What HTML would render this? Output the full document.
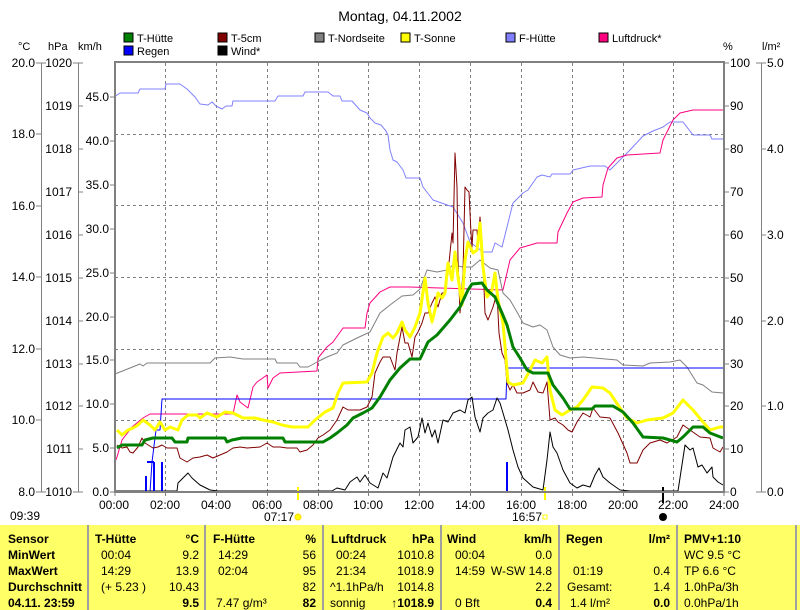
<!DOCTYPE html>
<html><head><meta charset="utf-8"><style>
body{margin:0;background:#fff;}
svg{display:block;font-family:"Liberation Sans",sans-serif;}
</style></head><body>
<svg width="800" height="610" viewBox="0 0 800 610" xmlns="http://www.w3.org/2000/svg">
<rect width="800" height="610" fill="#fff"/>
<text x="400" y="21" font-size="14" text-anchor="middle">Montag, 04.11.2002</text>
<g font-size="11">
<rect x="124" y="33" width="9" height="9" fill="#008000" stroke="#000"/><text x="137" y="42">T-Hütte</text>
<rect x="124" y="46" width="9" height="9" fill="#0000ff" stroke="#000"/><text x="137" y="55">Regen</text>
<rect x="218" y="33" width="9" height="9" fill="#800000" stroke="#000"/><text x="231" y="42">T-5cm</text>
<rect x="218" y="46" width="9" height="9" fill="#000" stroke="#000"/><text x="231" y="55">Wind*</text>
<rect x="315" y="33" width="9" height="9" fill="#808080" stroke="#000"/><text x="328" y="42">T-Nordseite</text>
<rect x="401" y="33" width="9" height="9" fill="#ffff00" stroke="#000"/><text x="414" y="42">T-Sonne</text>
<rect x="506" y="33" width="9" height="9" fill="#8080ff" stroke="#000"/><text x="519" y="42">F-Hütte</text>
<rect x="599" y="33" width="9" height="9" fill="#ff0080" stroke="#000"/><text x="612" y="42">Luftdruck*</text>
<text x="18" y="50">°C</text><text x="48" y="50">hPa</text><text x="78" y="50">km/h</text>
<text x="723" y="50">%</text><text x="762" y="50">l/m²</text>
</g>
<g stroke="#808080" stroke-dasharray="3,3" stroke-width="1">
<path d="M165.5 63V492M216.5 63V492M267.5 63V492M318.5 63V492M368.5 63V492M419.5 63V492M470.5 63V492M521.5 63V492M572.5 63V492M623.5 63V492M673.5 63V492"/>
<path d="M115 134.5H724M115 205.5H724M115 277.5H724M115 349.5H724M115 420.5H724"/>
</g>
<g stroke="#808080" fill="none">
<path d="M41.5 63V492M78.5 63V492M761.5 63V492"/>
<path d="M36 63H46M36 134H41M36 206H41M36 277H41M36 349H41M36 420H41M36 492H46"/>
<path d="M73 63H83M78 106H83M78 149H83M78 192H83M78 235H83M78 278H83M78 321H83M78 364H83M78 406H83M78 449H83M73 492H83"/>
<path d="M110 97H115M110 141H115M110 185H115M110 229H115M110 273H115M110 317H115M110 360H115M110 404H115M110 448H115M110 492H115"/>
<path d="M724 63H729M724 106H729M724 149H729M724 192H729M724 235H729M724 278H729M724 321H729M724 364H729M724 406H729M724 449H729M724 492H729"/>
<path d="M756 63H766M761 149H766M761 235H766M761 321H766M761 406H766M756 492H766"/>
<path d="M165.5 492v4M216.5 492v4M267.5 492v4M318.5 492v4M368.5 492v4M419.5 492v4M470.5 492v4M521.5 492v4M572.5 492v4M623.5 492v4M673.5 492v4M724 492v4M115 492v4"/>
</g>
<g font-size="12" text-anchor="end">
<text x="35" y="67">20.0</text><text x="35" y="138">18.0</text><text x="35" y="210">16.0</text><text x="35" y="281">14.0</text><text x="35" y="353">12.0</text><text x="35" y="424">10.0</text><text x="35" y="496">8.0</text>
<text x="72" y="67">1020</text><text x="72" y="110">1019</text><text x="72" y="153">1018</text><text x="72" y="196">1017</text><text x="72" y="239">1016</text><text x="72" y="282">1015</text><text x="72" y="325">1014</text><text x="72" y="368">1013</text><text x="72" y="410">1012</text><text x="72" y="453">1011</text><text x="72" y="496">1010</text>
<text x="109" y="101">45.0</text><text x="109" y="145">40.0</text><text x="109" y="189">35.0</text><text x="109" y="233">30.0</text><text x="109" y="277">25.0</text><text x="109" y="321">20.0</text><text x="109" y="364">15.0</text><text x="109" y="408">10.0</text><text x="109" y="452">5.0</text><text x="109" y="496">0.0</text>
</g>
<g font-size="12">
<text x="730" y="67">100</text><text x="730" y="110">90</text><text x="730" y="153">80</text><text x="730" y="196">70</text><text x="730" y="239">60</text><text x="730" y="282">50</text><text x="730" y="325">40</text><text x="730" y="368">30</text><text x="730" y="410">20</text><text x="730" y="453">10</text><text x="730" y="496">0</text>
<text x="767" y="67">5.0</text><text x="767" y="153">4.0</text><text x="767" y="239">3.0</text><text x="767" y="325">2.0</text><text x="767" y="410">1.0</text><text x="767" y="496">0.0</text>
</g>
<g font-size="12" text-anchor="middle">
<text x="114" y="509">00:00</text><text x="165" y="509">02:00</text><text x="216" y="509">04:00</text><text x="267" y="509">06:00</text><text x="318" y="509">08:00</text><text x="368" y="509">10:00</text><text x="419" y="509">12:00</text><text x="470" y="509">14:00</text><text x="521" y="509">16:00</text><text x="572" y="509">18:00</text><text x="623" y="509">20:00</text><text x="673" y="509">22:00</text><text x="724" y="509">24:00</text>
</g>
<text x="10" y="520" font-size="12">09:39</text>
<text x="264" y="521" font-size="12">07:17</text>
<circle cx="298" cy="517" r="3" fill="#ffff00" stroke="#ffd700"/>
<text x="512" y="521" font-size="12">16:57</text>
<rect x="543" y="515" width="4" height="4" fill="none" stroke="#ffff00"/>
<circle cx="663" cy="517" r="4" fill="#000"/>
<g fill="none" stroke-linejoin="round">
<polyline stroke="#8080ff" points="114,97 120,93 138,93 140,89 165,89 166,84 180,84 187,89 195,97 200,104 208,105 212,102 216,106 222,109 226,106 232,106 233,101 275,101 278,96 303,96 305,92 328,92 333,96 340,96 342,101 352,101 360,110 367,113 370,118 375,123 381,125 386,131 388,135 390,150 393,160 397,162 403,170 406,178 410,178 420,178 423,187 433,200 453,207 463,223 470,242 483,252 492,252 495,243 502,247 507,227 513,203 523,193 528,190 537,177 542,175 550,177 552,174 570,174 573,170 590,166 605,166 610,170 623,157 630,150 643,136 653,131 663,127 670,122 683,122 693,135 710,135 712,139 723,139"/>
<polyline stroke="#ff0080" points="115,462 117,457 122,440 132,427 143,418 150,414 233,414 237,395 240,402 248,408 253,387 257,382 267,375 268,388 273,378 280,373 317,371 318,358 327,347 333,342 343,328 365,328 367,313 370,303 380,292 390,287 410,287 440,288 503,290 510,260 520,248 537,243 557,243 558,232 567,213 573,202 583,198 602,197 603,185 608,168 617,158 627,155 660,153 663,140 673,120 680,113 693,110 723,110"/>
<polyline stroke="#808080" points="115,374 120,372 130,368 140,364 143,366 147,363 210,363 215,358 230,357 243,359 275,359 277,363 297,363 300,367 308,367 317,362 327,357 337,353 343,345 357,338 370,332 380,313 390,305 402,296 413,295 420,289 427,270 437,272 447,270 453,265 463,267 472,267 480,260 490,268 498,270 503,293 510,300 517,312 523,323 533,327 540,325 547,330 553,347 560,355 570,358 583,357 617,360 623,365 643,366 650,363 670,362 680,360 687,367 697,383 703,385 712,392 723,393"/>
<polyline stroke="#0000ff" points="115,492 150,492 152,462 156,430 160,430 162,399 506,399 507,368 724,368"/>
<polyline stroke="#000" points="115,491 177,491 178,483 188,473 192,478 200,485 210,490 218,491 332,491 337,488 345,490 350,482 357,477 360,482 365,475 370,483 378,488 383,473 387,478 393,457 400,443 403,447 405,430 410,427 413,443 418,437 422,418 425,433 428,423 432,437 435,430 438,443 443,420 448,422 453,413 460,410 465,413 468,400 472,397 475,417 480,432 483,418 488,413 493,410 497,398 500,403 503,413 508,430 513,450 518,467 523,478 533,487 543,490 547,460 550,432 553,447 557,453 563,470 570,483 577,488 583,485 590,487 595,475 599,468 603,477 610,483 620,490 630,491 678,491 685,445 690,450 693,448 698,467 702,465 707,473 712,467 713,477 718,482 723,485"/>
<polyline stroke="#800000" points="117,445 122,448 127,447 130,452 133,453 138,447 142,438 145,443 153,448 158,447 162,445 167,448 177,448 180,458 187,462 193,458 200,457 207,455 213,458 220,455 227,452 233,448 240,447 247,448 260,447 267,443 273,447 280,447 287,448 297,448 300,452 307,450 313,445 318,438 323,435 330,430 337,420 343,407 348,410 360,410 367,407 372,397 375,373 380,362 383,357 390,357 395,370 397,353 402,327 405,343 408,343 412,357 415,337 418,332 422,323 425,313 428,313 432,303 435,297 438,307 442,293 445,293 448,273 452,233 453,243 455,153 457,187 458,260 460,313 463,273 465,187 467,190 469,192 471,233 472,247 473,230 477,230 478,243 480,217 482,243 483,263 485,313 488,320 493,307 497,293 499,333 502,353 505,360 507,383 510,390 513,385 517,393 523,393 530,390 533,382 538,392 543,393 547,382 550,420 555,418 558,422 563,425 568,430 572,432 577,422 583,413 590,417 593,408 600,417 610,418 618,433 627,453 630,463 637,463 643,450 650,443 660,440 667,443 677,437 683,425 690,430 700,437 710,438 713,448 720,452 723,447"/>
<polyline stroke="#ffff00" stroke-width="3" points="117,430 122,435 128,430 133,428 138,425 143,420 150,425 155,430 160,422 165,430 170,427 178,430 182,420 188,415 197,415 200,418 207,413 217,417 225,412 233,413 243,418 255,418 263,420 273,422 282,425 292,427 308,427 315,420 325,412 333,408 338,393 343,383 367,382 372,373 377,353 383,337 388,333 393,338 397,333 402,322 405,330 410,337 415,327 420,313 425,278 428,303 432,322 435,310 438,293 442,298 445,293 448,263 452,280 455,252 458,277 462,305 465,260 468,242 473,253 477,250 480,223 483,267 487,297 492,290 495,273 498,300 503,323 508,382 513,385 523,383 530,370 535,360 542,363 547,357 550,390 555,410 562,415 570,410 577,407 583,400 592,387 603,388 610,393 618,405 627,418 637,423 647,420 663,418 673,413 683,400 693,410 703,422 710,430 720,427 723,427"/>
<polyline stroke="#008000" stroke-width="3" points="117,448 122,445 142,445 145,440 153,438 172,438 175,442 187,442 188,438 225,438 227,442 232,440 242,438 283,438 285,442 323,442 330,438 337,433 347,425 353,418 363,413 372,408 380,397 390,380 400,368 410,359 420,359 428,342 437,335 450,320 460,307 468,290 472,284 482,283 487,290 495,297 502,313 507,325 513,347 520,358 527,370 533,373 548,373 553,385 563,398 570,409 592,409 595,406 613,406 623,412 633,423 643,437 663,438 677,442 683,437 693,427 703,427 710,433 723,438"/>
</g>
<g stroke="#0000ff" stroke-width="2">
<path d="M146 492V476M147 462H154M154 492V462M162 492V462M507 492V462"/>
</g>
<path d="M298 487V500" stroke="#ffff00" stroke-width="2"/>
<path d="M545 487V500" stroke="#ffff00" stroke-width="2"/>
<path d="M663 487V503" stroke="#000" stroke-width="2"/>
<rect x="115" y="62" width="609" height="430" fill="none" stroke="#808080" stroke-width="2"/>
<rect x="0" y="525" width="800" height="85" fill="#ffff66"/>
<g stroke="#a0a0a0" stroke-width="2"><path d="M88 525V610M205 525V610M323 525V610M441 525V610M559 525V610M677 525V610M796 525V610"/></g>
<g font-size="12">
<g font-weight="bold"><text x="8" y="543">Sensor</text><text x="8" y="559">MinWert</text><text x="8" y="575">MaxWert</text><text x="8" y="591">Durchschnitt</text><text x="8" y="607">04.11. 23:59</text>
<text x="95" y="543">T-Hütte</text><text x="213" y="543">F-Hütte</text><text x="331" y="543">Luftdruck</text><text x="447" y="543">Wind</text><text x="566" y="543">Regen</text><text x="684" y="543">PMV+1:10</text></g>
<g text-anchor="end" font-weight="bold"><text x="199" y="543">°C</text><text x="316" y="543">%</text><text x="434" y="543">hPa</text><text x="552" y="543">km/h</text><text x="670" y="543">l/m²</text>
<text x="199" y="607">9.5</text><text x="316" y="607">82</text><text x="434" y="607">↑1018.9</text><text x="552" y="607">0.4</text><text x="670" y="607">0.0</text></g>
<text x="101" y="559">00:04</text><text x="101" y="575">14:29</text><text x="101" y="591">(+ 5.23 )</text>
<text x="218" y="559">14:29</text><text x="218" y="575">02:04</text><text x="216" y="607">7.47 g/m³</text>
<text x="336" y="559">00:24</text><text x="336" y="575">21:34</text><text x="330" y="591">^1.1hPa/h</text><text x="330" y="607">sonnig</text>
<text x="455" y="559">00:04</text><text x="455" y="575">14:59</text><text x="455" y="607">0 Bft</text>
<text x="573" y="575">01:19</text><text x="567" y="591">Gesamt:</text><text x="570" y="607">1.4 l/m²</text>
<text x="684" y="559">WC 9.5 °C</text><text x="684" y="575">TP 6.6 °C</text><text x="684" y="591">1.0hPa/3h</text><text x="684" y="607">0.0hPa/1h</text>
<g text-anchor="end"><text x="199" y="559">9.2</text><text x="199" y="575">13.9</text><text x="199" y="591">10.43</text>
<text x="316" y="559">56</text><text x="316" y="575">95</text><text x="316" y="591">82</text>
<text x="434" y="559">1010.8</text><text x="434" y="575">1018.9</text><text x="434" y="591">1014.8</text>
<text x="552" y="559">0.0</text><text x="552" y="575">W-SW 14.8</text><text x="552" y="591">2.2</text>
<text x="670" y="575">0.4</text><text x="670" y="591">1.4</text></g>
</g>
</svg>
</body></html>
